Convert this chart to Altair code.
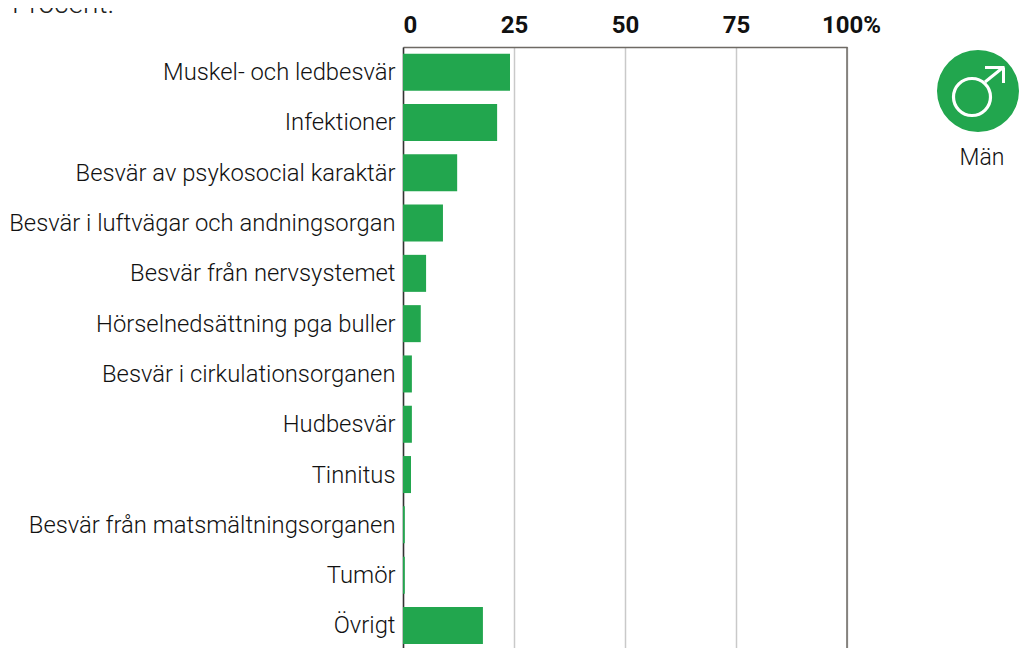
import altair as alt
import pandas as pd

categories = ["Muskel- och ledbesvär", "Infektioner", "Besvär av psykosocial karaktär",
              "Besvär i luftvägar och andningsorgan", "Besvär från nervsystemet",
              "Hörselnedsättning pga buller", "Besvär i cirkulationsorganen", "Hudbesvär",
              "Tinnitus", "Besvär från matsmältningsorganen", "Tumör", "Övrigt"]
values = [24.1, 21.2, 12.2, 9.0, 5.2, 4.0, 2.0, 2.0, 1.8, 0.4, 0.4, 18.0]
ticks = [0, 25, 50, 75, 100]
GREEN = "#22a64e"
FONT = "Roboto"

df = pd.DataFrame({"cat": categories, "val": values})

x = alt.X("val:Q", scale=alt.Scale(domain=[0, 100], nice=False),
          axis=alt.Axis(orient="top", values=ticks, title=None, tickSize=0, labelPadding=10,
                        labelFlush=False,
                        labelFont=FONT, labelFontSize=24, labelFontWeight="bold", labelColor="#111",
                        labelExpr="datum.value == 100 ? '100%' : datum.label",
                        labelOffset=alt.expr("datum.value == 0 ? 7 : datum.value == 100 ? 4 : 0"),
                        grid=True, gridColor="#c9c9c9", gridWidth=1.5,
                        domainColor="#6e6a64", domainWidth=1.5))
y = alt.Y("cat:N", sort=categories,
          scale=alt.Scale(range=[0, 603.6], paddingInner=0.264, paddingOuter=0.132),
          axis=alt.Axis(title=None, tickSize=0, labelPadding=8, labelFont=FONT, labelFontSize=23.8,
                        labelFontWeight=300, labelOffset=1,
                        labelColor="#111", labelLimit=420, domainColor="#333", domainWidth=1.5, grid=False))

bars = alt.Chart(df).mark_bar(color=GREEN, cornerRadius=0).encode(x=x, y=y)
right = alt.Chart(df.head(1)).mark_rule(color="#6e6a64", strokeWidth=1.5).encode(x=alt.datum(100))

circle = alt.Chart(df.head(1)).mark_point(filled=True, color=GREEN, opacity=1, size=6724).encode(
    x=alt.value(575), y=alt.value(44))
ring = alt.Chart(df.head(1)).mark_point(filled=False, color="white", opacity=1, strokeWidth=3.2, size=1369).encode(
    x=alt.value(569), y=alt.value(50))
def seg(x1, y1, x2, y2):
    return alt.Chart(df.head(1)).mark_rule(color="white", strokeWidth=3).encode(
        x=alt.value(x1), y=alt.value(y1), x2=alt.value(x2), y2=alt.value(y2))
arrow = [seg(582, 35, 600, 20.5), seg(582, 20.5, 601.5, 20.5), seg(600.5, 20.5, 600.5, 36)]
man = alt.Chart(df.head(1)).mark_text(text="Män", font=FONT, fontSize=23, fontWeight=300, color="#111",
                                      align="center", baseline="alphabetic").encode(
    x=alt.value(579), y=alt.value(118))
procent = alt.Chart(df.head(1)).mark_text(text="Procent.", font=FONT, fontSize=28, fontWeight=300, color="#222",
                                          align="left", baseline="alphabetic").encode(
    x=alt.value(-391), y=alt.value(-34))

chart = alt.layer(bars, right, procent, circle, ring, *arrow, man).properties(
    width=444, height=601,
    padding={"left": 395, "top": 39, "right": 172, "bottom": 0},
    autosize=alt.AutoSizeParams(type="none"),
).configure_view(strokeWidth=0)

chart.save("out.html", embed_options={"renderer": "svg", "actions": False})
